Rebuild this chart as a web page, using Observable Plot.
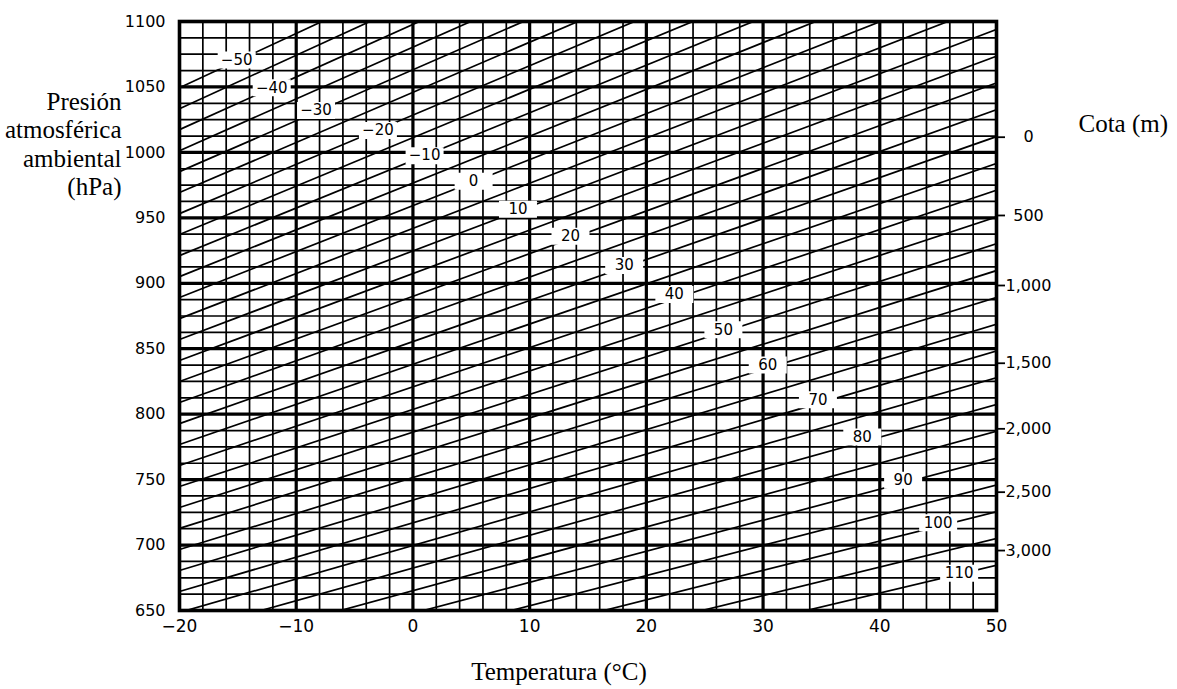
<!DOCTYPE html>
<html>
<head>
<meta charset="utf-8">
<script src="https://cdn.jsdelivr.net/npm/d3@7"></script>
<script src="https://cdn.jsdelivr.net/npm/@observablehq/plot@0.6"></script>
<style>
  html, body { margin: 0; padding: 0; background: #fff; }
  #chart { width: 1177px; height: 689px; }
</style>
</head>
<body>
<div id="chart"></div>
<script>
// ---- Axis ticks / grid values ----
const tempTicks = [-20, -10, 0, 10, 20, 30, 40, 50];
const tempMinor = [-18, -16, -14, -12, -8, -6, -4, -2, 2, 4, 6, 8, 12, 14, 16, 18,
                   22, 24, 26, 28, 32, 34, 36, 38, 42, 44, 46, 48];
const pressureTicks = [650, 700, 750, 800, 850, 900, 950, 1000, 1050, 1100];
const pressureMinor = [662.5, 675, 687.5, 712.5, 725, 737.5, 762.5, 775, 787.5,
                       812.5, 825, 837.5, 862.5, 875, 887.5, 912.5, 925, 937.5,
                       962.5, 975, 987.5, 1012.5, 1025, 1037.5, 1062.5, 1075, 1087.5];

// ---- Right axis: altitude (m) and the pressure where each label sits ----
const altitudeLabels = ["0", "500", "1,000", "1,500", "2,000", "2,500", "3,000"];
const altitudePressure = [1011.6, 951.8, 898.3, 838.9, 788.8, 740.4, 695.8];

// ---- Diagonal lines: value, pressure at -20 °C and at 50 °C ----
const lineValues = [-50, -45, -40, -35, -30, -25, -20, -15, -10, -5, 0, 5, 10, 15, 20,
                    25, 30, 35, 40, 45, 50, 55, 60, 65, 70, 75, 80, 85, 90, 95, 100, 105, 110];
const linePressureAtMinus20 = [1049.4, 1033.4, 1017.4, 1001.3, 985.3, 969.3, 953.2, 937.2,
                    921.1, 905.1, 889.1, 873.0, 857.0, 841.0, 824.9, 808.9, 792.8, 776.8,
                    760.8, 744.7, 728.7, 712.7, 696.6, 680.6, 664.5, 648.5, 632.5, 616.4,
                    600.4, 584.4, 568.3, 552.3, 536.2];
const linePressureAt50 = [1339.6, 1319.2, 1298.7, 1278.2, 1257.7, 1237.3, 1216.8, 1196.3,
                    1175.8, 1155.4, 1134.9, 1114.4, 1094.0, 1073.5, 1053.0, 1032.6, 1012.1,
                    991.6, 971.1, 950.7, 930.2, 909.7, 889.2, 868.8, 848.3, 827.8, 807.4,
                    786.9, 766.4, 745.9, 725.5, 705.0, 684.5];

// ---- Labels on the diagonal lines ----
const labelValues = [-50, -40, -30, -20, -10, 0, 10, 20, 30, 40, 50, 60, 70, 80, 90, 100, 110];
const labelTemp = [-15.1, -12.1, -8.3, -3.0, 1.0, 5.2, 9.0, 13.5, 18.1, 22.4, 26.6, 30.4,
                   34.7, 38.5, 42.0, 45.0, 46.8];
const labelPressure = [1070.5, 1049.3, 1032.0, 1016.8, 997.5, 978.0, 956.5, 936.0, 913.5,
                       891.5, 864.5, 837.5, 811.0, 782.5, 749.5, 717.0, 678.5];

// ---- build tables ----
const diagonals = lineValues.map((v, i) => ({
  v, t1: -20, t2: 50, p1: linePressureAtMinus20[i], p2: linePressureAt50[i]
}));
const labels = labelValues.map((v, i) => ({
  v, t: labelTemp[i], p: labelPressure[i],
  text: v < 0 ? "\u2212" + Math.abs(v) : String(v)
}));
const altMap = new Map(altitudePressure.map((p, i) => [p, altitudeLabels[i]]));

const sans = "DejaVu Sans, Liberation Sans, sans-serif";
const serif = "Liberation Serif, Times New Roman, serif";
const labelBox = { draw(context) { context.rect(-19, -8.5, 38, 17); } };
const fmtTemp = d => d < 0 ? "\u2212" + Math.abs(d) : String(d);

const chart = Plot.plot({
  width: 1177,
  height: 689,
  marginLeft: 179,
  marginRight: 181,
  marginTop: 21,
  marginBottom: 79,
  style: { background: "#fff", color: "#000" },
  x: { domain: [-20, 50], label: null },
  y: { domain: [650, 1100], label: null },
  marks: [
    // minor grid
    Plot.ruleX(tempMinor, { stroke: "#000", strokeWidth: 1.7 }),
    Plot.ruleY(pressureMinor, { stroke: "#000", strokeWidth: 1.7 }),
    // major grid
    Plot.ruleX(tempTicks.slice(1, -1), { stroke: "#000", strokeWidth: 3.2 }),
    Plot.ruleY(pressureTicks.slice(1, -1), { stroke: "#000", strokeWidth: 3.2 }),
    // diagonal lines
    Plot.link(diagonals, {
      x1: "t1", y1: "p1", x2: "t2", y2: "p2",
      stroke: "#000", strokeWidth: 1.7, clip: true
    }),
    // label boxes & labels
    Plot.dot(labels, { x: "t", y: "p", symbol: labelBox, r: 5, fill: "#fff", stroke: "none" }),
    Plot.text(labels, {
      x: "t", y: "p", text: "text", fill: "#000",
      fontSize: 15, fontFamily: sans
    }),
    Plot.frame({ stroke: "#000", strokeWidth: 3.6 }),
    // axes
    Plot.axisX(tempTicks, {
      tickSize: 0, tickPadding: 9, tickFormat: fmtTemp,
      fontSize: 17, fontFamily: sans, label: null
    }),
    Plot.axisY(pressureTicks, {
      anchor: "left", tickSize: 0, tickPadding: 14,
      fontSize: 16, fontFamily: sans, label: null, tickFormat: d => String(d)
    }),
    Plot.axisY(altitudePressure, {
      anchor: "right", tickSize: 8, tickPadding: 24, strokeWidth: 1.8,
      textAnchor: "middle",
      tickFormat: d => altMap.get(d), fontSize: 16, fontFamily: sans, label: null
    }),
    // titles
    Plot.text(["Presión\natmosférica\nambiental\n(hPa)"], {
      frameAnchor: "top-left", dx: -58, dy: 68, textAnchor: "end",
      lineAnchor: "top", lineHeight: 1.14, fontSize: 25, fontFamily: serif, fill: "#000"
    }),
    Plot.text(["Cota (m)"], {
      frameAnchor: "top-right", dx: 82, dy: 102, textAnchor: "start",
      lineAnchor: "middle", fontSize: 25, fontFamily: serif, fill: "#000"
    }),
    Plot.text(["Temperatura (°C)"], {
      frameAnchor: "bottom", dx: -29, dy: 61, textAnchor: "middle",
      lineAnchor: "middle", fontSize: 25, fontFamily: serif, fill: "#000"
    })
  ]
});
document.getElementById("chart").appendChild(chart);
</script>
</body>
</html>
